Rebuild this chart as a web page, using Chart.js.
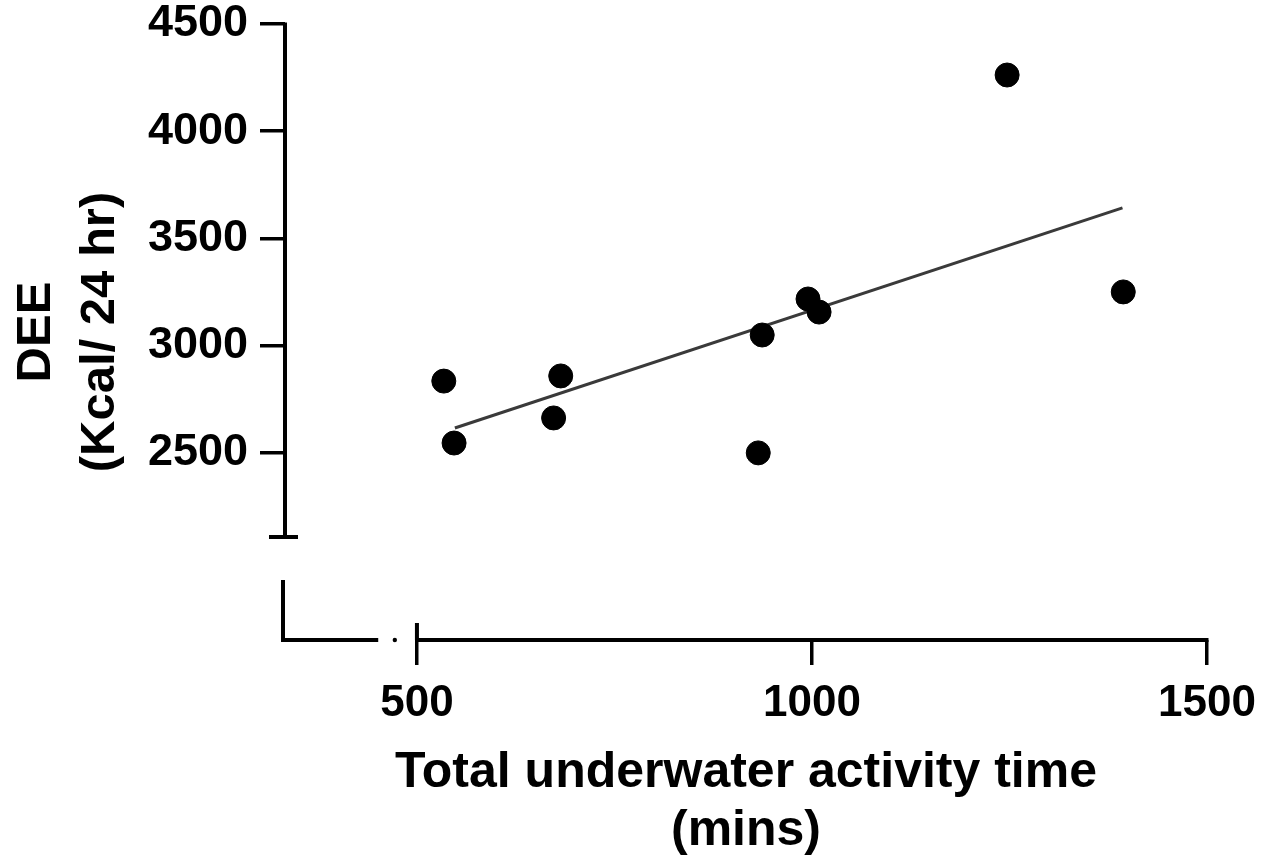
<!DOCTYPE html>
<html>
<head>
<meta charset="utf-8">
<title>DEE vs underwater activity time</title>
<script src="https://cdn.jsdelivr.net/npm/chart.js@4.4.1/dist/chart.umd.min.js"></script>
<style>
  body { margin: 0; background: #fff; }
  canvas { display: block; }
</style>
</head>
<body>
<canvas id="myChart" width="1279" height="863"></canvas>
<script>
// values
const minutes = [534, 547, 682, 673, 937, 932, 995, 1009, 1247, 1394];
const dee = [2834, 2545, 2858, 2662, 3049, 2499, 3217, 3156, 4262, 3250];
// fitted line end points
const fitX = [548, 1393];
const fitY = [2615, 3642];

const xTicks = [500, 1000, 1500];
const yTicks = [2500, 3000, 3500, 4000, 4500];

// axis ranges and the broken-axis gaps (data units)
const xMin = 333, xMax = 1500;
const yMin = 1626, yMax = 4500;
const yGap = [2107, 1906];
const xGapEnd = 451, xGapDot = 472;

const fontFamily = "'Liberation Sans', Arial, sans-serif";

const brokenAxes = {
    id: 'brokenAxes',
    afterDraw(chart) {
        const ctx = chart.ctx;
        const x = chart.scales.x;
        const y = chart.scales.y;
        const left = chart.chartArea.left;
        const bottom = chart.chartArea.bottom;

        ctx.save();
        ctx.strokeStyle = '#000';
        ctx.fillStyle = '#000';
        ctx.lineWidth = 4;
        ctx.lineJoin = 'miter';

        // upper part of y axis with end cap
        const yEnd = y.getPixelForValue(yGap[0]);
        ctx.beginPath();
        ctx.moveTo(left, y.getPixelForValue(yMax) - 1.5);
        ctx.lineTo(left, yEnd);
        ctx.moveTo(left - 16, yEnd);
        ctx.lineTo(left + 13, yEnd);
        ctx.stroke();

        // lower stub of y axis and left stub of x axis
        ctx.beginPath();
        ctx.moveTo(left - 2, y.getPixelForValue(yGap[1]));
        ctx.lineTo(left - 2, bottom);
        ctx.lineTo(x.getPixelForValue(xGapEnd), bottom);
        ctx.stroke();

        // small dot in the x gap
        ctx.beginPath();
        ctx.arc(x.getPixelForValue(xGapDot), bottom, 2.2, 0, Math.PI * 2);
        ctx.fill();

        // main x axis
        ctx.beginPath();
        ctx.moveTo(x.getPixelForValue(xTicks[0]), bottom);
        ctx.lineTo(x.getPixelForValue(xMax) + 1.5, bottom);
        // upward part of the first x tick
        ctx.moveTo(x.getPixelForValue(xTicks[0]), bottom - 17);
        ctx.lineTo(x.getPixelForValue(xTicks[0]), bottom);
        ctx.stroke();
        ctx.restore();
    }
};

const ctx = document.getElementById('myChart').getContext('2d');

new Chart(ctx, {
    type: 'scatter',
    data: {
        datasets: [{
            type: 'line',
            data: fitX.map((v, i) => ({ x: v, y: fitY[i] })),
            borderColor: '#3a3a3a',
            borderWidth: 3,
            pointRadius: 0,
            fill: false,
            order: 2
        }, {
            data: minutes.map((v, i) => ({ x: v, y: dee[i] })),
            pointRadius: 12,
            pointBackgroundColor: '#000',
            pointBorderColor: '#000',
            pointBorderWidth: 1,
            order: 1
        }]
    },
    options: {
        responsive: false,
        animation: false,
        layout: { padding: { left: 0, right: 72, top: 24, bottom: 0 } },
        plugins: {
            legend: { display: false },
            tooltip: { enabled: false }
        },
        scales: {
            x: {
                type: 'linear',
                min: xMin,
                max: xMax,
                afterBuildTicks: (axis) => { axis.ticks = xTicks.map(v => ({ value: v })); },
                afterFit: (axis) => { axis.height = 223; },
                border: { display: false },
                grid: {
                    drawOnChartArea: false,
                    drawTicks: true,
                    tickLength: 25,
                    color: '#000',
                    lineWidth: 3.5
                },
                ticks: {
                    padding: 17,
                    color: '#000',
                    maxRotation: 0,
                    callback: (v) => String(v),
                    font: { family: fontFamily, size: 44, weight: 'bold', lineHeight: 1 }
                },
                title: {
                    display: true,
                    text: ['Total underwater activity time', '(mins)'],
                    color: '#000',
                    padding: { top: 0, bottom: 3 },
                    font: { family: fontFamily, size: 50, weight: 'bold', lineHeight: 1.16 }
                }
            },
            y: {
                min: yMin,
                max: yMax,
                afterBuildTicks: (axis) => { axis.ticks = yTicks.map(v => ({ value: v })); },
                afterFit: (axis) => { axis.width = 285; },
                border: { display: false },
                grid: {
                    drawOnChartArea: false,
                    drawTicks: true,
                    tickLength: 25,
                    color: '#000',
                    lineWidth: 3.5
                },
                ticks: {
                    padding: 12,
                    color: '#000',
                    callback: (v) => String(v),
                    font: { family: fontFamily, size: 45, weight: 'bold', lineHeight: 0.5 }
                },
                title: {
                    display: true,
                    text: ['DEE', '(Kcal/ 24 hr)'],
                    color: '#000',
                    padding: { top: 5, bottom: 0 },
                    font: { family: fontFamily, size: 49, weight: 'bold', lineHeight: 1.3 }
                }
            }
        }
    },
    plugins: [brokenAxes]
});
</script>
</body>
</html>
